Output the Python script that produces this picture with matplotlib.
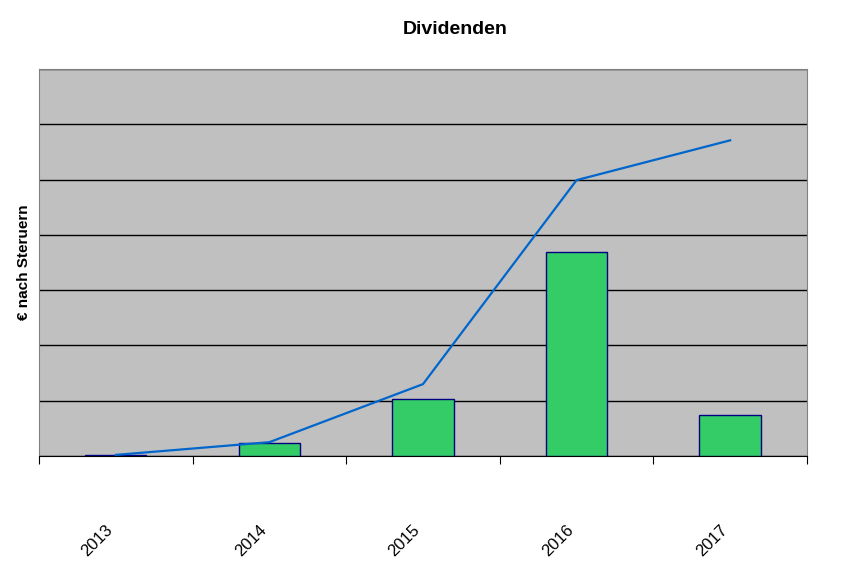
import numpy as np
import matplotlib
matplotlib.use('Agg')
import matplotlib.pyplot as plt

# Daten
jahre = ['2013', '2014', '2015', '2016', '2017']
dividenden = [0.02, 0.23, 1.03, 3.69, 0.74]
kumuliert = [0.02, 0.25, 1.30, 4.99, 5.71]

plt.rcParams['font.family'] = ['Liberation Sans', 'DejaVu Sans']

fig = plt.figure(figsize=(8.64, 5.77), dpi=100)
ax = fig.add_axes([0.0451, 0.2097, 0.8889, 0.6707])
ax.set_facecolor('#C0C0C0')

x = np.arange(len(jahre))
ax.bar(x, dividenden, width=0.4, color='#33CC66', edgecolor='#000080', linewidth=1, zorder=3)
ax.plot(x, kumuliert, color='#0066CC', linewidth=1.6, zorder=4)

ax.set_xlim(-0.5, len(jahre) - 0.5)
ax.set_ylim(0, 7)

# Gitterlinien
ax.set_yticks(range(0, 8))
ax.set_yticklabels([])
ax.tick_params(axis='y', length=0)
ax.yaxis.grid(True, color='black', linewidth=1)
ax.set_axisbelow(True)

# x-Achse: Striche an Kategoriegrenzen, Beschriftung in der Mitte
ax.set_xticks(np.arange(-0.5, len(jahre)), minor=False)
ax.set_xticklabels([])
ax.tick_params(axis='x', which='major', length=6, color='black', direction='out')
ax.set_xticks(x, minor=True)
ax.set_xticklabels(jahre, minor=True, rotation=45, ha='right', va='top', fontsize=12)
ax.tick_params(axis='x', which='minor', length=0, pad=48)

for side in ['left', 'top', 'right']:
    ax.spines[side].set_color('#808080')
ax.spines['bottom'].set_color('black')

ax.set_ylabel('€ nach Steruern', fontsize=11, fontweight='bold', labelpad=2)
fig.text(455 / 864, 1 - 29 / 577, 'Dividenden', fontsize=14, fontweight='bold',
         ha='center', va='center')

fig.savefig('out.png', dpi=100)
